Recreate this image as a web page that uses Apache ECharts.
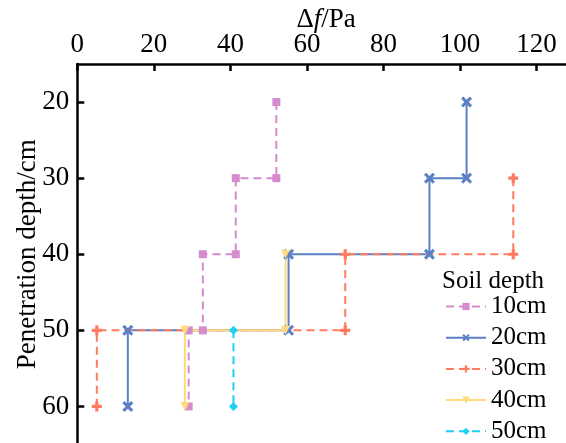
<!DOCTYPE html>
<html>
<head>
<meta charset="utf-8">
<script src="https://cdn.jsdelivr.net/npm/echarts@6/dist/echarts.min.js"></script>
<style>
  html, body { margin: 0; padding: 0; background: #fff; }
  #chart { width: 566px; height: 443px; }
</style>
</head>
<body>
<div id="chart"></div>
<script>
// tick values
const xTicks = [0, 20, 40, 60, 80, 100, 120]
const yTicks = [20, 30, 40, 50, 60]

// step corners, depth (cm) and frequency shift (Pa)
const depth10 = [20, 30, 30, 40, 40, 50, 50, 60]
const shift10 = [52, 52, 41.4, 41.4, 32.8, 32.8, 29.1, 29.1]
const depth20 = [20, 30, 30, 40, 40, 50, 50, 60]
const shift20 = [101.7, 101.7, 92, 92, 55.2, 55.2, 13.2, 13.2]
const depth30 = [30, 40, 40, 50, 50, 60]
const shift30 = [113.9, 113.9, 70, 70, 5.1, 5.1]
const depth40 = [40, 50, 50, 60]
const shift40 = [54.4, 54.4, 28.1, 28.1]
const depth50 = [50, 60]
const shift50 = [40.8, 40.8]

const serif = 'Liberation Serif'

const pairs = (xs, ys) => xs.map((x, i) => [x, ys[i]])

const crossPath = 'path://M2,0L5,3L8,0L10,2L7,5L10,8L8,10L5,7L2,10L0,8L3,5L0,2Z'
const plusPath = 'path://M3.4,0H6.6V3.4H10V6.6H6.6V10H3.4V6.6H0V3.4H3.4Z'

const chart = echarts.init(document.getElementById('chart'), null, { renderer: 'canvas' })

const makeSeries = (name, xs, ys, color, dashed, symbol, size, rotate) => ({
  name,
  type: 'line',
  data: pairs(xs, ys),
  symbol,
  symbolSize: size,
  symbolRotate: rotate || 0,
  showAllSymbol: true,
  lineStyle: { color, width: 2, type: dashed ? [8, 5] : 'solid' },
  itemStyle: { color },
  emphasis: { disabled: true },
  animation: false
})

chart.setOption({
  backgroundColor: '#fff',
  title: {
    text: 'Soil depth',
    left: 442,
    top: 268,
    padding: 0,
    textStyle: { fontFamily: serif, fontSize: 25, fontWeight: 'normal', color: '#000', lineHeight: 26 }
  },
  legend: {
    orient: 'vertical',
    left: 445,
    top: 294,
    height: 170,
    padding: 0,
    itemWidth: 40,
    itemHeight: 9,
    itemGap: 6.2,
    textStyle: { fontFamily: serif, fontSize: 25, color: '#000', lineHeight: 24 },
    data: ['10cm', '20cm', '30cm', '40cm', '50cm']
  },
  grid: { left: 77.3, top: 64, width: 497.6, height: 380.5, outerBoundsMode: 'none' },
  xAxis: {
    type: 'value',
    position: 'top',
    min: 0,
    max: 130,
    name: '{a|Δ}{i|f}{a|/Pa}',
    nameLocation: 'middle',
    nameGap: 31,
    nameMoveOverlap: false,
    nameTextStyle: {
      rich: {
        a: { fontFamily: serif, fontSize: 27, color: '#000' },
        i: { fontFamily: serif, fontSize: 27, color: '#000', fontStyle: 'italic' }
      }
    },
    axisLine: { lineStyle: { color: '#000', width: 2.5 } },
    axisTick: { inside: true, length: 7, lineStyle: { width: 2.5 }, customValues: xTicks },
    axisLabel: { fontFamily: serif, fontSize: 27, color: '#000', margin: 6, customValues: xTicks },
    splitLine: { show: false }
  },
  yAxis: {
    type: 'value',
    inverse: true,
    min: 15,
    max: 65,
    name: 'Penetration depth/cm',
    nameLocation: 'middle',
    nameGap: 36,
    nameMoveOverlap: false,
    nameTextStyle: { fontFamily: serif, fontSize: 27, color: '#000' },
    axisLine: { show: true, lineStyle: { color: '#000', width: 2.5 } },
    axisTick: { show: true, inside: true, length: 7, lineStyle: { width: 2.5 }, customValues: yTicks },
    axisLabel: { fontFamily: serif, fontSize: 27, color: '#000', margin: 8, customValues: yTicks },
    splitLine: { show: false }
  },
  series: [
    makeSeries('10cm', shift10, depth10, '#D48CCF', true, 'rect', 8),
    makeSeries('20cm', shift20, depth20, '#5B80C4', false, crossPath, 11),
    makeSeries('30cm', shift30, depth30, '#FF7B5F', true, plusPath, 10),
    makeSeries('40cm', shift40, depth40, '#FFD97C', false, 'triangle', 9, 180),
    makeSeries('50cm', shift50, depth50, '#1ED0F8', true, 'diamond', 9)
  ]
})
</script>
</body>
</html>
